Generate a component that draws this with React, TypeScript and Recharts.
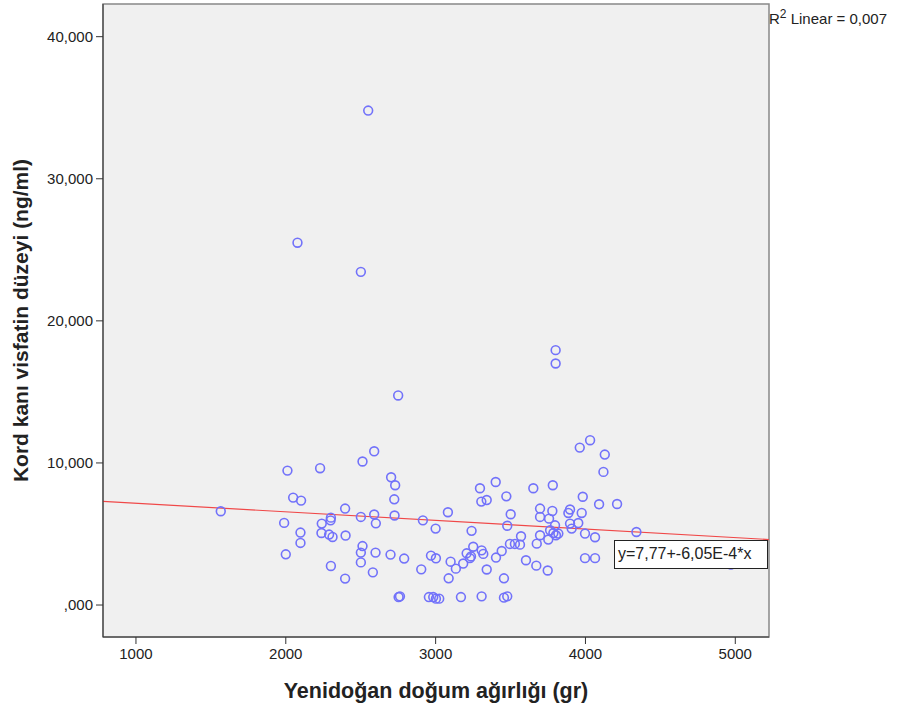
import {
  ScatterChart,
  Scatter,
  XAxis,
  YAxis,
  ReferenceArea,
  ReferenceLine,
  Label,
} from "recharts";

// birth weight (gr)
const birthWeight = [
  1566, 1989, 2000, 2011, 2049, 2078, 2098, 2098, 2102, 2229, 2238, 2240, 2289, 2299, 2301, 2301, 2312, 2396, 2396, 2399,
  2501, 2501, 2501, 2501, 2512, 2512, 2550, 2581, 2590, 2590, 2599, 2601, 2699, 2703, 2724, 2726, 2730, 2750, 2753, 2762,
  2790, 2904, 2915,
  2955, 2969, 2984, 3000, 3002, 3002, 3024, 3082, 3087, 3100, 3135, 3169, 3184, 3207, 3229, 3236, 3240, 3251, 3296, 3305,
  3307, 3307, 3318, 3341, 3341, 3401, 3403, 3441, 3456, 3456, 3472, 3478, 3478, 3496, 3501, 3529, 3563, 3570,
  3603, 3652, 3672, 3675, 3697, 3697, 3697, 3748, 3752, 3757, 3764, 3779, 3782, 3786, 3797, 3801, 3801, 3803, 3819,
  3886, 3897, 3897, 3908, 3952, 3962, 3975, 3982, 3997, 3997, 4031, 4064, 4064, 4091, 4120, 4129, 4211, 4340, 4971,
];

// cord blood visfatin (ng/ml)
const visfatin = [
  6.6, 5.78, 3.57, 9.46, 7.56, 25.5, 5.1, 4.37, 7.35, 9.63, 5.07, 5.73, 4.96, 5.96, 6.15, 2.75, 4.79, 6.79, 1.86, 4.89,
  23.45, 6.2, 3.69, 3.0, 10.1, 4.15, 34.8, 2.3, 10.82, 6.37, 3.69, 5.75, 3.55, 8.99, 7.44, 6.3, 8.43, 14.75, 0.56, 0.61,
  3.27, 2.51, 5.96,
  0.56, 3.48, 0.56, 5.38, 3.29, 0.45, 0.45, 6.53, 1.88, 3.05, 2.56, 0.56, 2.92, 3.64, 3.3, 3.42, 5.22, 4.1, 8.22, 7.28,
  3.85, 0.61, 3.6, 7.39, 2.5, 8.66, 3.34, 3.8, 1.88, 0.52, 7.65, 5.58, 0.61, 4.3, 6.39, 4.3, 4.25, 4.84,
  3.15, 8.22, 2.77, 4.32, 6.79, 6.2, 4.91, 2.43, 4.61, 6.08, 5.26, 6.62, 8.43, 5.07, 5.61, 17.94, 17.0, 4.91, 5.03,
  6.48, 6.72, 5.73, 5.38, 5.77, 11.08, 6.48, 7.62, 5.03, 3.3, 11.6, 4.77, 3.3, 7.09, 9.37, 10.59, 7.11, 5.14, 2.85,
];

const xTicks = [1000, 2000, 3000, 4000, 5000];
const yTicks = [0, 10, 20, 30, 40];
const xDomain = [780, 5225];
const yDomain = [-2.25, 42.3];

// fit line y = 7.77 + -6.05E-4 * x
const intercept = 7.77;
const slope = -6.05e-4;

const points = birthWeight.map((x, i) => ({ x, y: visfatin[i] }));
const fit = xDomain.map((x) => ({ x, y: intercept + slope * x }));

const FONT = "'Liberation Sans', Arial, sans-serif";
const INK = "#222";

const yFmt = (v: number) => (v === 0 ? ",000" : `${v},000`);

const Ring = (props: any) => (
  <circle cx={props.cx} cy={props.cy} r={4.4} fill="none" stroke="#7272fa" strokeWidth={1.6} />
);

export default function App() {
  return (
    <div style={{ position: "relative", width: 897, height: 711, background: "#fff", fontFamily: FONT }}>
      <style>{`body{margin:0}`}</style>
      <ScatterChart width={897} height={711} margin={{ top: 4, right: 128, bottom: 0, left: 0 }}>
        <XAxis
          type="number"
          dataKey="x"
          domain={xDomain}
          ticks={xTicks}
          allowDataOverflow
          height={74}
          tickSize={7}
          tickMargin={4}
          stroke="#333"
          tick={{ fill: INK, fontSize: 15, fontFamily: FONT }}
        >
          <Label
            value="Yenidoğan doğum ağırlığı (gr)"
            position="center"
            dy={16}
            style={{ fontSize: 21.5, fontWeight: "bold", fill: INK, fontFamily: FONT }}
          />
        </XAxis>
        <YAxis
          type="number"
          dataKey="y"
          domain={yDomain}
          ticks={yTicks}
          allowDataOverflow
          width={103}
          tickSize={7}
          tickMargin={3}
          tickFormatter={yFmt}
          stroke="#333"
          tick={{ fill: INK, fontSize: 15, fontFamily: FONT }}
        >
          <Label
            value="Kord kanı visfatin düzeyi (ng/ml)"
            position="center"
            angle={-90}
            dx={-31}
            style={{ fontSize: 21, fontWeight: "bold", fill: INK, fontFamily: FONT, textAnchor: "middle" }}
          />
        </YAxis>
        <ReferenceArea
          x1={xDomain[0]}
          x2={xDomain[1]}
          y1={yDomain[0]}
          y2={yDomain[1]}
          fill="#f0f0f0"
          fillOpacity={1}
          stroke="#888"
          strokeWidth={1.5}
        />
        <ReferenceLine
          segment={fit}
          stroke="#f04848"
          strokeWidth={1.2}
          ifOverflow="visible"
        />
        <Scatter data={points} shape={Ring} isAnimationActive={false} />
      </ScatterChart>
      <div
        style={{
          position: "absolute",
          left: 614,
          top: 540,
          width: 154,
          height: 29,
          border: "1.5px solid #222",
          background: "#fff",
          fontSize: 16,
          lineHeight: "26px",
          color: INK,
          paddingLeft: 3,
          boxSizing: "border-box",
          whiteSpace: "nowrap",
        }}
      >
        y=7,77+-6,05E-4*x
      </div>
      <div
        style={{
          position: "absolute",
          left: 769,
          top: 7,
          fontSize: 15,
          color: INK,
          whiteSpace: "nowrap",
        }}
      >
        R<sup style={{ fontSize: 12 }}>2</sup> Linear = 0,007
      </div>
    </div>
  );
}
